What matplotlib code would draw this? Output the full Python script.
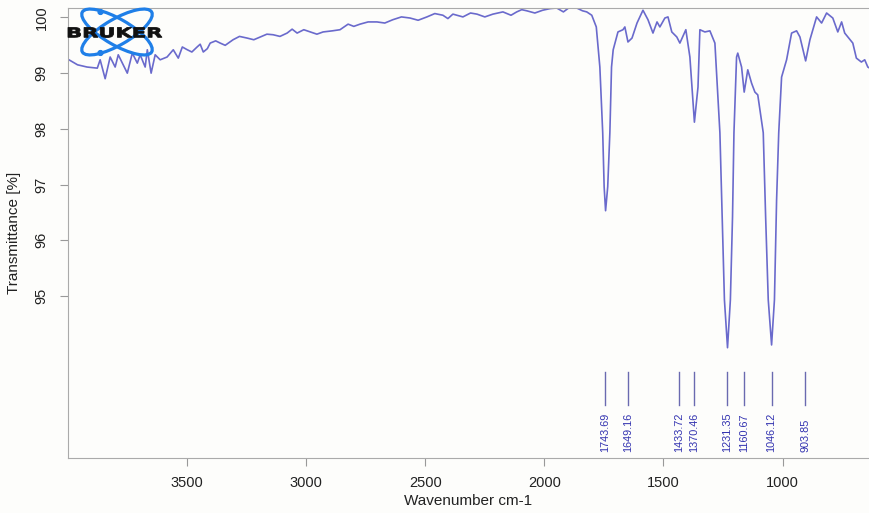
import matplotlib
matplotlib.use('Agg')
import matplotlib.pyplot as plt
from matplotlib.patches import Ellipse, Circle, PathPatch
from matplotlib.textpath import TextPath
from matplotlib.font_manager import FontProperties
from matplotlib.transforms import Affine2D

plt.rcParams['font.family'] = ['Liberation Sans', 'DejaVu Sans']

# spectrum (wavenumber cm-1, transmittance %)
wavenumber = [4000, 3960, 3920, 3877, 3865, 3844, 3823, 3802, 3789, 3751,
              3730, 3709, 3697, 3676, 3667, 3651, 3634, 3613, 3584, 3558,
              3537, 3520, 3499, 3480, 3458, 3445, 3432, 3415, 3403, 3380,
              3361, 3340, 3307, 3280, 3248, 3220, 3193, 3165, 3139, 3110,
              3080, 3059, 3038, 3010, 2983, 2955, 2929, 2890, 2858, 2824,
              2800, 2774, 2740, 2703, 2670, 2636, 2600, 2564, 2530, 2493,
              2460, 2426, 2405, 2384, 2342, 2310, 2283, 2250, 2216, 2195,
              2174, 2140, 2116, 2095, 2074, 2040, 2007, 1975, 1948, 1920,
              1895, 1864, 1840, 1822, 1801, 1782, 1767, 1755, 1749, 1743,
              1734, 1725, 1718, 1711, 1691, 1670, 1662, 1649, 1632, 1611,
              1586, 1565, 1544, 1527, 1515, 1494, 1481, 1465, 1444, 1431,
              1406, 1389, 1370, 1355, 1347, 1326, 1305, 1284, 1263, 1253,
              1244, 1231, 1219, 1210, 1204, 1193, 1188, 1172, 1161, 1146,
              1130, 1116, 1104, 1081, 1071, 1060, 1046, 1034, 1025, 1016,
              1004, 983, 962, 941, 927, 903, 885, 857, 836, 815,
              789, 768, 752, 739, 705, 690, 669, 655, 642, 634]
transmittance = [99.25, 99.15, 99.11, 99.09, 99.24, 98.90, 99.29, 99.11, 99.33, 99.00,
                 99.36, 99.18, 99.33, 99.11, 99.42, 99.00, 99.33, 99.24, 99.29, 99.42,
                 99.27, 99.47, 99.42, 99.38, 99.47, 99.52, 99.38, 99.44, 99.54, 99.58,
                 99.54, 99.50, 99.60, 99.66, 99.63, 99.60, 99.65, 99.70, 99.69, 99.66,
                 99.72, 99.79, 99.72, 99.78, 99.74, 99.70, 99.74, 99.76, 99.78, 99.88,
                 99.84, 99.88, 99.92, 99.92, 99.90, 99.96, 100.01, 99.99, 99.95, 100.01,
                 100.07, 100.04, 99.98, 100.06, 100.01, 100.08, 100.06, 100.01, 100.06, 100.08,
                 100.10, 100.04, 100.10, 100.14, 100.12, 100.08, 100.13, 100.16, 100.17, 100.10,
                 100.18, 100.17, 100.12, 100.10, 100.04, 99.83, 99.11, 97.93, 96.96, 96.53,
                 96.96, 97.93, 99.11, 99.42, 99.74, 99.78, 99.83, 99.56, 99.63, 99.90,
                 100.13, 99.96, 99.72, 99.92, 99.83, 99.99, 100.01, 99.74, 99.65, 99.54,
                 99.78, 99.29, 98.12, 98.75, 99.78, 99.74, 99.76, 99.54, 97.93, 96.36,
                 94.93, 94.07, 94.93, 96.42, 97.93, 99.29, 99.36, 99.11, 98.66, 99.06,
                 98.82, 98.66, 98.61, 97.93, 96.42, 94.93, 94.12, 94.93, 96.72, 97.93,
                 98.93, 99.24, 99.72, 99.76, 99.65, 99.22, 99.60, 100.01, 99.90, 100.08,
                 99.99, 99.74, 99.92, 99.72, 99.54, 99.27, 99.20, 99.24, 99.11, 99.09]

peaks = [1743.69, 1649.16, 1433.72, 1370.46, 1231.35, 1160.67, 1046.12, 903.85]
peak_labels = ['1743.69', '1649.16', '1433.72', '1370.46', '1231.35', '1160.67', '1046.12', '903.85']

xticks = [3500, 3000, 2500, 2000, 1500, 1000]
yticks = [95, 96, 97, 98, 99, 100]

W, H = 869, 513
fig = plt.figure(figsize=(W / 100, H / 100), dpi=100)
fig.patch.set_facecolor('#fdfdfb')
ax = fig.add_axes([68 / W, 1 - 458 / H, (W - 68) / W, 450 / H])
ax.set_facecolor('#fdfdfb')

ax.plot(wavenumber, transmittance, color='#6a6acc', lw=1.2)

# peak markers
for p, lab in zip(peaks, peak_labels):
    ax.plot([p, p], [93.04, 93.63], color='#6a6ab0', lw=1)
    ax.text(p, 92.2, lab, rotation=90, ha='center', va='bottom',
            fontsize=7.8, color='#3232b0')

ax.set_xlim(4000, 637)
ax.set_ylim(92.09, 100.17)
ax.set_xticks(xticks)
ax.set_yticks(yticks)
ax.set_yticklabels([str(v) for v in yticks], rotation=90, va='center')
ax.tick_params(axis='both', length=6, color='#999999', labelsize=10.5,
               labelcolor='#222222', pad=7)
ax.tick_params(axis='y', pad=8)
for s in ['left', 'bottom', 'top']:
    ax.spines[s].set_color('#aaaaaa')
ax.spines['right'].set_visible(False)

ax.set_xlabel('Wavenumber cm-1', fontsize=11, color='#222222', labelpad=3)
ax.set_ylabel('Transmittance [%]', fontsize=11, color='#222222', labelpad=10)

# Bruker logo (drawn in pixel units)
lg = fig.add_axes([60 / W, 1 - 60 / H, 110 / W, 56 / H])
lg.set_xlim(60, 170)
lg.set_ylim(60, 4)
lg.axis('off')
for ang in (30, -30):
    lg.add_patch(Ellipse((117, 32), 80, 26, angle=ang, fill=False,
                         ec='#1f7fe8', lw=2.3))
for cy in (12, 53):
    lg.add_patch(Circle((100.5, cy), 2.4, color='#1f7fe8'))
tp = TextPath((0, 0), 'BRUKER', size=10,
              prop=FontProperties(family='DejaVu Sans', weight='bold'))
ext = tp.get_extents()
tr = (Affine2D().translate(-ext.x0, -ext.y0)
      .scale(94 / ext.width, -10 / ext.height)
      .translate(68, 37.5))
lg.add_patch(PathPatch(tr.transform_path(tp), fc='#111111', ec='#111111', lw=0.6))

fig.savefig('out.png', dpi=100, facecolor=fig.get_facecolor())
